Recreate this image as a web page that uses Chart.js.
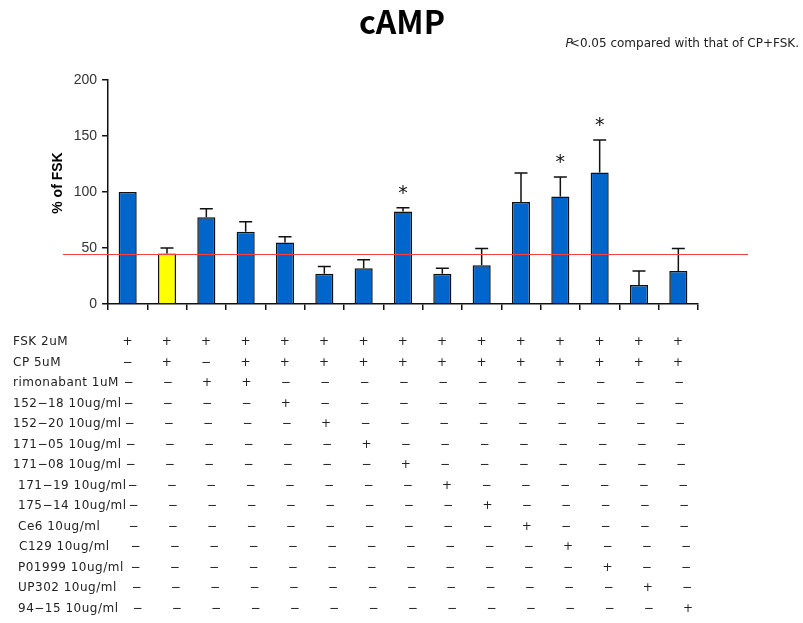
<!DOCTYPE html>
<html>
<head>
<meta charset="utf-8">
<script src="https://cdn.jsdelivr.net/npm/chart.js@4.4.1/dist/chart.umd.min.js"></script>
<style>
    html, body { margin: 0; padding: 0; background: #fff; }
    #wrap { width: 803px; height: 623px; }
</style>
</head>
<body>
<div id="wrap"><canvas id="graph-container" width="803" height="623"></canvas></div>
<script>
'use strict';
// values (% of FSK)
var categories = ['FSK', 'CP+FSK', 'Rim+FSK', 'Rim+CP+FSK', '152-18', '152-20', '171-05', '171-08',
    '171-19', '175-14', 'Ce6', 'C129', 'P01999', 'UP302', '94-15'];
var means = [100, 45, 77.5, 64.5, 55, 27, 32, 82.5, 27, 34.5, 91, 96, 117.5, 17, 29.5];
var errors = [0, 5, 7.5, 9, 5, 6.5, 7.5, 3.5, 5, 15, 26, 17.5, 29, 12.5, 20];
var starred = [7, 11, 12];
var refLevel = 45;
var yTicks = [0, 50, 100, 150, 200];

var rowLabels = ['FSK 2uM', 'CP 5uM', 'rimonabant 1uM', '152\u221218 10ug/ml', '152\u221220 10ug/ml',
    '171\u221205 10ug/ml', '171\u221208 10ug/ml', '171\u221219 10ug/ml', '175\u221214 10ug/ml',
    'Ce6 10ug/ml', 'C129 10ug/ml', 'P01999 10ug/ml', 'UP302 10ug/ml', '94\u221215 10ug/ml'];
var rowSigns = [
    '+++++++++++++++',
    '-+-++++++++++++',
    '--++-----------',
    '----+----------',
    '-----+---------',
    '------+--------',
    '-------+-------',
    '--------+------',
    '---------+-----',
    '----------+----',
    '-----------+---',
    '------------+--',
    '-------------+-',
    '--------------+'
];

// layout bits (not data)
var rowShift = [0, 0, 1, 1, 2, 3, 3, 5, 6, 6, 8, 8, 9, 10];
var labelX = [13, 13, 13, 13, 13, 13, 13, 18, 18, 18, 19, 18, 18, 18];
var barColors = categories.map(function (c, i) { return i === 1 ? '#ffff00' : '#0066cc'; });

var drawExtras = {
    id: 'drawExtras',
    afterDatasetsDraw: function (chart) {
        var ctx = chart.ctx;
        var xs = chart.scales.x;
        var ys = chart.scales.y;
        var meta = chart.getDatasetMeta(0);
        ctx.save();

        // error bars, upward only
        ctx.strokeStyle = '#111';
        ctx.lineWidth = 1.5;
        meta.data.forEach(function (bar, i) {
            if (!errors[i]) return;
            var top = ys.getPixelForValue(means[i] + errors[i]);
            ctx.beginPath();
            ctx.moveTo(bar.x, bar.y);
            ctx.lineTo(bar.x, top);
            ctx.moveTo(bar.x - 6.5, top);
            ctx.lineTo(bar.x + 6.5, top);
            ctx.stroke();
        });

        // stars
        ctx.fillStyle = '#111';
        ctx.font = '19px "DejaVu Sans"';
        ctx.textAlign = 'center';
        ctx.textBaseline = 'middle';
        starred.forEach(function (i) {
            var top = ys.getPixelForValue(means[i] + errors[i]);
            ctx.fillText('*', meta.data[i].x, top - 14);
        });

        // CP+FSK reference line
        var ry = ys.getPixelForValue(refLevel);
        ctx.strokeStyle = '#ff4040';
        ctx.lineWidth = 1;
        ctx.beginPath();
        ctx.moveTo(63, Math.round(ry) + 0.5);
        ctx.lineTo(748, Math.round(ry) + 0.5);
        ctx.stroke();

        // title
        ctx.fillStyle = '#000';
        ctx.font = 'bold 32px "Noto Sans CJK KR"';
        ctx.textBaseline = 'alphabetic';
        ctx.fillText('cAMP', 402, 34);

        // footnote
        ctx.font = '12px "DejaVu Sans"';
        ctx.fillStyle = '#222';
        ctx.textAlign = 'right';
        var rest = '<0.05 compared with that of CP+FSK.';
        var restW = ctx.measureText(rest).width;
        ctx.fillText(rest, 799, 47);
        ctx.font = 'italic 12px "DejaVu Sans"';
        ctx.fillText('P', 799 - restW + 3, 47);

        // y axis title
        ctx.save();
        ctx.translate(62, 183);
        ctx.rotate(-Math.PI / 2);
        ctx.textAlign = 'center';
        ctx.fillStyle = '#000';
        ctx.font = 'bold 14px "Liberation Sans"';
        ctx.fillText('% of FSK', 0, 0);
        ctx.restore();

        // treatment table
        ctx.fillStyle = '#222';
        ctx.textBaseline = 'middle';
        ctx.letterSpacing = '0.5px';
        rowLabels.forEach(function (label, r) {
            var y = chart.chartArea.bottom + 38 + r * 20.5;
            ctx.textAlign = 'left';
            ctx.font = '12px "DejaVu Sans"';
            ctx.fillText(label, labelX[r], y);
            ctx.textAlign = 'center';
            for (var c = 0; c < categories.length; c++) {
                var s = rowSigns[r].charAt(c) === '+' ? '+' : '\u2212';
                ctx.fillText(s, xs.getPixelForValue(c) + rowShift[r], y);
            }
        });
        ctx.restore();
    }
};

var ctx = document.getElementById('graph-container');
var myChart = new Chart(ctx, {
    type: 'bar',
    data: {
        labels: categories,
        datasets: [{
            data: means,
            backgroundColor: barColors,
            borderColor: '#111',
            borderWidth: 1.5,
            categoryPercentage: 1,
            barPercentage: 0.46
        }]
    },
    options: {
        responsive: false,
        animation: false,
        layout: { padding: { top: 80, right: 105, left: 0, bottom: 0 } },
        plugins: { legend: { display: false }, tooltip: { enabled: false }, title: { display: false } },
        scales: {
            x: {
                afterFit: function (scale) { scale.height = 319; },
                ticks: { display: false },
                grid: { drawOnChartArea: false, drawTicks: true, tickLength: 6, color: '#111', lineWidth: 1.5 },
                border: { display: true, color: '#111', width: 1.5 }
            },
            y: {
                min: 0,
                max: 200,
                afterFit: function (scale) { scale.width = 108; },
                afterBuildTicks: function (scale) {
                    scale.ticks = yTicks.map(function (v) { return { value: v }; });
                },
                ticks: { padding: 5, color: '#333', font: { family: 'Liberation Sans', size: 14 } },
                grid: { drawOnChartArea: false, drawTicks: true, tickLength: 6, color: '#111', lineWidth: 1.5 },
                border: { display: true, color: '#111', width: 1.5 }
            }
        }
    },
    plugins: [drawExtras]
});
</script>
</body>
</html>
